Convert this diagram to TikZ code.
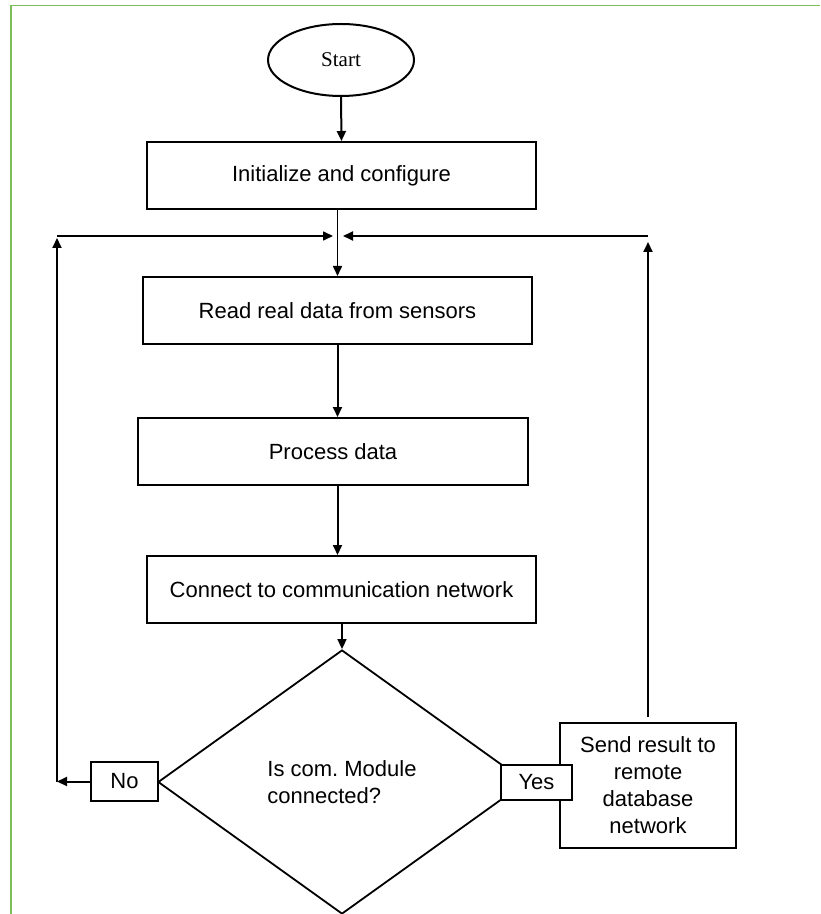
\documentclass[tikz,border=0pt]{standalone}
\usepackage{fontspec}
\setmainfont{Liberation Sans}
\newfontfamily\timesfont{Liberation Serif}
\usetikzlibrary{shapes.geometric,arrows.meta}
\definecolor{framegreen}{HTML}{7DBE5B}

\begin{document}
\begin{tikzpicture}[x=.5pt,y=-.5pt,
    box/.style={draw,line width=1pt,inner sep=0pt,align=center,
      font=\fontsize{11}{13.5}\selectfont},
    arr/.style={line width=1pt,-{Triangle[length=5pt,width=4.5pt]}}]
        \useasboundingbox (0,0) rectangle (820,914);

        %% green frame
        \draw[framegreen,line width=1.2pt] (11,914) -- (11,5.5);
        \draw[framegreen,line width=.8pt] (10.5,5.5) -- (820,5.5);

        %% main column
        \node (start) at (341,60) [ellipse,draw,line width=1pt,inner sep=0pt,
          minimum width=73pt,minimum height=36pt,
          font=\timesfont\fontsize{10.5}{12}\selectfont] {Start};
        \node (init) at (341.5,175.5) [box,minimum width=194.5pt,minimum height=33.5pt] {Initialize and configure};
        \node (read) at (337.5,310.5) [box,minimum width=194.5pt,minimum height=33.5pt] {Read real data from sensors};
        \node (proc) at (333,451.5) [box,minimum width=195pt,minimum height=33.5pt] {Process data};
        \node (conn) at (341.5,589.5) [box,minimum width=194.5pt,minimum height=33.5pt] {Connect to communication network};

        %% decision
        \node (dec) at (342,782) [diamond,draw,line width=.9pt,inner sep=0pt,
          minimum width=184pt,minimum height=132pt,align=left,
          font=\fontsize{11}{13.5}\selectfont] {Is com.\ Module\\connected?};
        \node (send) at (648,785.5) [box,minimum width=88pt,minimum height=62.5pt] {Send result to\\remote\\database\\network};
        \node (yes) at (536.5,782.5) [box,fill=white,minimum width=35.5pt,minimum height=17.5pt] {Yes};
        \node (no) at (124.5,781.5) [box,minimum width=33.5pt,minimum height=19.5pt] {No};

        %% loop corners
        \coordinate (ltop) at (57,236);
        \coordinate (ljoin) at (333,236);
        \coordinate (rtop) at (648,236);
        \coordinate (rjoin) at (343,236);

        %% arrows
        \draw[arr] (start.south) -- (init.north);
        \draw[arr,line width=.8pt] (init.south -| read.north) -- (read.north);
        \draw[arr] (read.south) -- (read.south |- proc.north);
        \draw[arr] (read.south |- proc.south) -- (read.south |- conn.north);
        \draw[arr,line width=.8pt] (conn.south -| dec.north) -- (dec.north);

        %% no
        \draw[arr] (no.west) -- (no.west -| ltop);
        \draw[arr,shorten >=1pt] (no.west -| ltop) -- (ltop);
        \draw[arr,line width=.8pt] (ltop) -- (ljoin);

        %% yes
        \draw[arr,shorten >=3pt] ([yshift=2.5pt]send.north) -- (rtop);
        \draw[arr] (rtop) -- (rjoin);
      \end{tikzpicture}
\end{document}
